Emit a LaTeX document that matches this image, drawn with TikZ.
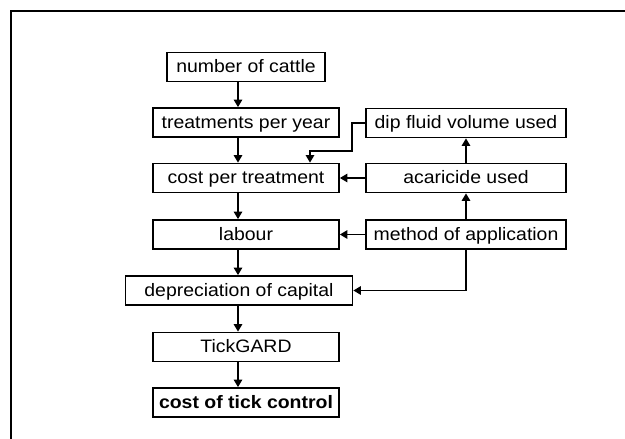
\documentclass[tikz,border=0pt]{standalone}
\usepackage{fontspec}
\setmainfont{Liberation Sans}[FakeStretch=1.08]
\usetikzlibrary{arrows.meta}
\begin{document}
\begin{tikzpicture}[x=1pt,y=-1pt,
    box/.style={draw,rectangle,line width=1.8pt,minimum height=29pt,inner sep=0pt,
      text height=12.5pt,text depth=1pt,font=\fontsize{18}{21}\selectfont},
    link/.style={line width=1.6pt,-{Triangle[length=7.5pt,width=8.5pt]}}]
  \useasboundingbox (0,0) rectangle (625,439);
  %\draw[very thin] (0,0) rectangle (625,439);
  \draw[line width=2pt] (11,439) -- (11,11) -- (625,11);

  \node[box,minimum width=158pt] (cattle) at (246,67.0) {number of cattle};
  \node[box,minimum width=186pt] (treat)  at (246,122.5) {treatments per year};
  \node[box,minimum width=186pt] (cpt)    at (246,178.0) {cost per treatment};
  \node[box,minimum width=186pt] (labour) at (246,234.5) {labour};
  \node[box,minimum width=227pt] (deprec) at (239,290.5) {depreciation of capital};
  \node[box,minimum width=186pt] (tick)   at (246,347.0) {TickGARD};
  \node[box,minimum width=186pt,font=\fontsize{18}{21}\selectfont\bfseries] (cost) at (246,402.5) {cost of tick control};

  \node[box,minimum width=200pt] (dip)    at (466,123.0) {dip fluid volume used};
  \node[box,minimum width=200pt] (acar)   at (466,178.0) {acaricide used};
  \node[box,minimum width=200pt] (method) at (466,234.5) {method of application};

  \coordinate (axis) at (238,0);
  \foreach \a/\b in {cattle/treat,treat/cpt,cpt/labour,labour/deprec,deprec/tick,tick/cost} {
    \draw[link] (\a.south -| axis) -- (\b.north -| axis);
  }

  \draw[link] (method.north) -- (acar.south);
  \draw[link] (acar.north) -- (dip.south);
  \draw[link] (acar.west) -- (cpt.east);
  \draw[link] (method.west) -- (labour.east);
  \draw[link] (method.south) |- (deprec.east);

  \coordinate (dipbend) at (352,151);
  \coordinate (dipdrop) at (310,151);
  \draw[link,line width=1.3pt] (dip.west) -| (dipbend) -- (dipdrop) -- (cpt.north -| dipdrop);
\end{tikzpicture}
\end{document}
